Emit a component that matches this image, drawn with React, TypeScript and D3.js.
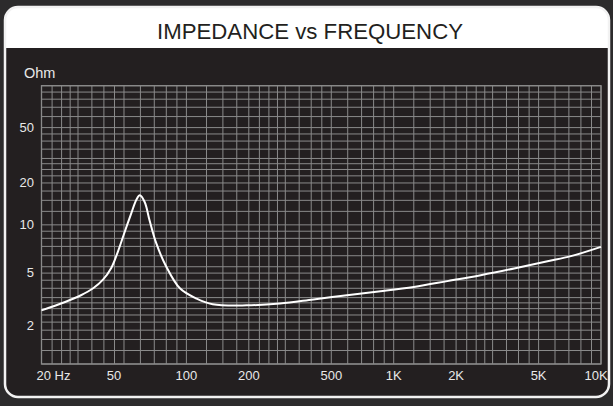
import { useEffect, useRef } from 'react';
import * as d3 from 'd3';

const TITLE = 'IMPEDANCE vs FREQUENCY';
const Y_UNIT = 'Ohm';

// impedance curve (Hz, Ohm)
const FREQ = [20, 26, 31, 35.5, 39.5, 43.4, 46.7, 50, 54.2, 57.3, 59.6, 62.9, 66.4, 71.6, 80, 93, 112, 134, 195, 283, 410, 595, 863, 1250, 1813, 2630, 3810, 5520, 7160, 10000];
const OHM = [2.43, 2.79, 3.12, 3.5, 4.02, 4.9, 6.4, 8.6, 12.1, 15.1, 16.3, 14.6, 10.8, 7.35, 5.0, 3.5, 2.95, 2.69, 2.64, 2.72, 2.91, 3.12, 3.33, 3.58, 3.94, 4.35, 4.86, 5.48, 5.96, 6.95];

const X_TICKS = [20, 50, 100, 200, 500, 1000, 2000, 5000, 10000];
const X_LABELS = ['20 Hz', '50', '100', '200', '500', '1K', '2K', '5K', '10K'];
const Y_TICKS = [2, 5, 10, 20, 50];
const Y_LABELS = ['2', '5', '10', '20', '50'];

// log paper grid steps within each decade
const GRID_STEPS = [1, 1.25, 1.5, 1.75, 2, 2.25, 2.5, 2.75, 3, 3.5, 4, 4.5, 5, 6, 7, 8, 9];
const X_DECADES = [10, 100, 1000, 10000];
const Y_DECADES = [1, 10, 100];

const FONT = '"Liberation Sans", Arial, Helvetica, sans-serif';

const App = () => {
  const svgRef = useRef<SVGSVGElement>(null);

  useEffect(() => {
    if (!svgRef.current) return;
    const width = 613;
    const height = 406;
    const svg = d3.select(svgRef.current);
    svg.selectAll('*').remove();

    const left = 41.5;
    const right = 601;
    const top = 85.7;
    const bottom = 364;

    const xScale = d3.scaleLog().domain([20, 10000]).range([left, right]);
    const yScale = d3.scaleLog().domain([1, 100]).range([bottom, top]);

    svg.append('rect').attr('width', width).attr('height', height).attr('fill', '#2c2b2c');

    // card
    const defs = svg.append('defs');
    defs
      .append('clipPath')
      .attr('id', 'card-clip')
      .append('rect')
      .attr('x', 5)
      .attr('y', 7)
      .attr('width', 604)
      .attr('height', 390)
      .attr('rx', 13);

    const card = svg.append('g').attr('clip-path', 'url(#card-clip)');
    card.append('rect').attr('x', 5).attr('y', 7).attr('width', 604).attr('height', 390).attr('fill', '#231f20');
    card.append('rect').attr('x', 5).attr('y', 7).attr('width', 604).attr('height', 41).attr('fill', '#ffffff');
    svg
      .append('rect')
      .attr('x', 5)
      .attr('y', 7)
      .attr('width', 604)
      .attr('height', 390)
      .attr('rx', 13)
      .attr('fill', 'none')
      .attr('stroke', '#f2f2f2')
      .attr('stroke-width', 2.5);

    svg
      .append('text')
      .attr('x', 310)
      .attr('y', 39)
      .attr('text-anchor', 'middle')
      .attr('font-family', FONT)
      .attr('font-size', 22)
      .attr('fill', '#231f20')
      .attr('textLength', 306)
      .attr('lengthAdjust', 'spacingAndGlyphs')
      .text(TITLE);

    // grid
    const xGrid = X_DECADES.flatMap((d) => GRID_STEPS.map((s) => d * s)).filter((v) => v >= 20 && v <= 10000);
    const yGrid = Y_DECADES.flatMap((d) => GRID_STEPS.map((s) => d * s)).filter((v) => v >= 1 && v <= 100);

    const grid = svg.append('g').attr('stroke', '#8a8a8a').attr('stroke-width', 1);
    grid
      .selectAll('line.h')
      .data(yGrid)
      .join('line')
      .attr('class', 'h')
      .attr('x1', left)
      .attr('x2', right)
      .attr('y1', (d) => yScale(d))
      .attr('y2', (d) => yScale(d));
    grid
      .selectAll('line.v')
      .data(xGrid)
      .join('line')
      .attr('class', 'v')
      .attr('y1', top)
      .attr('y2', bottom)
      .attr('x1', (d) => xScale(d))
      .attr('x2', (d) => xScale(d));
    svg
      .append('rect')
      .attr('x', left)
      .attr('y', top)
      .attr('width', right - left)
      .attr('height', bottom - top)
      .attr('fill', 'none')
      .attr('stroke', '#8a8a8a')
      .attr('stroke-width', 1.3);

    // labels
    const xOffset: Record<number, number> = { 50: -10, 10000: -5 };
    svg
      .append('g')
      .selectAll('text')
      .data(X_TICKS)
      .join('text')
      .attr('x', (d, i) => xScale(d) + (i === 0 ? -5 : xOffset[d] ?? 0))
      .attr('y', 380)
      .attr('text-anchor', (d, i) => (i === 0 ? 'start' : 'middle'))
      .attr('font-family', FONT)
      .attr('font-size', 13)
      .attr('fill', '#e8e8e8')
      .text((d, i) => X_LABELS[i]);

    const yOffset: Record<number, number> = { 5: 6, 2: 3 };
    svg
      .append('g')
      .selectAll('text')
      .data(Y_TICKS)
      .join('text')
      .attr('x', 34)
      .attr('y', (d) => yScale(d) + 4.5 + (yOffset[d] ?? 0))
      .attr('text-anchor', 'end')
      .attr('font-family', FONT)
      .attr('font-size', 13)
      .attr('fill', '#e8e8e8')
      .text((d, i) => Y_LABELS[i]);

    svg
      .append('text')
      .attr('x', 24)
      .attr('y', 78)
      .attr('font-family', FONT)
      .attr('font-size', 14.5)
      .attr('fill', '#e8e8e8')
      .text(Y_UNIT);

    // curve
    const points = FREQ.map((f, i) => [f, OHM[i]] as [number, number]);
    const line = d3
      .line<[number, number]>()
      .x((d) => xScale(d[0]))
      .y((d) => yScale(d[1]))
      .curve(d3.curveCatmullRom.alpha(0.5));
    svg
      .append('path')
      .datum(points)
      .attr('d', line)
      .attr('fill', 'none')
      .attr('stroke', '#ffffff')
      .attr('stroke-width', 2);
  }, []);

  return (
    <svg
      ref={svgRef}
      width={613}
      height={406}
      style={{ position: 'absolute', left: 0, top: 0, display: 'block' }}
    />
  );
};

export default App;
